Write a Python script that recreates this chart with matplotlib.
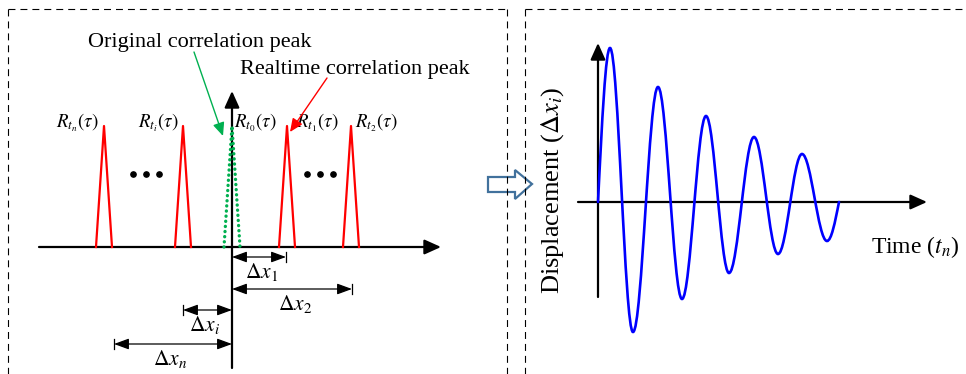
import numpy as np
import matplotlib
matplotlib.use('Agg')
import matplotlib.pyplot as plt
from matplotlib.path import Path
from matplotlib.patches import PathPatch, Polygon

plt.rcParams['font.family'] = ['Liberation Serif', 'DejaVu Serif']
plt.rcParams['mathtext.fontset'] = 'stix'
plt.rcParams['lines.scale_dashes'] = False

# correlation peaks (tau position, label)
peak_tau = [-128, -49, 0, 55, 119]
peak_labels = [r'$R_{t_n}(\tau)$', r'$R_{t_i}(\tau)$', r'$R_{t_0}(\tau)$',
               r'$R_{t_1}(\tau)$', r'$R_{t_2}(\tau)$']
label_tau = [-155, -74, 23, 85, 144]
peak_height = 121
peak_halfwidth = 8
original_idx = 2

# displacement brackets below the tau axis
dx_ends = [54, 120, -49, -118]
dx_levels = [-10, -42, -63, -97]
dx_labels = [r'$\Delta x_1$', r'$\Delta x_2$', r'$\Delta x_i$', r'$\Delta x_n$']

# displacement vs time (extrema of the damped oscillation)
wave_t = [0, 12, 35, 60, 84, 108, 131, 156, 180, 204, 229, 241]
wave_y = [0, 154, -130, 115, -97, 86, -71, 65, -52, 48, -39, 0]

W, H = 966, 374
fig = plt.figure(figsize=(W / 100, H / 100), dpi=100)

# background: dashed frames + hollow arrow (pixel coords)
bg = fig.add_axes([0, 0, 1, 1])
bg.set_xlim(0, W)
bg.set_ylim(H, 0)
bg.axis('off')
dash = dict(color='black', lw=0.8, dashes=(5, 3.6))
bg.plot([8, 8], [9, H], **dash)
bg.plot([8, 507], [9, 9], **dash)
bg.plot([507, 507], [9, H], **dash)
bg.plot([525, 525], [9, H], **dash)
bg.plot([525, 962], [9, 9], **dash)
bg.add_patch(Polygon([(488, 177), (515, 177), (515, 170), (532, 184),
                      (515, 199), (515, 192), (488, 192)],
                     closed=True, fill=False, ec='#41719C', lw=1.6))

# ---------------- left panel ----------------
ax = fig.add_axes([0, 0, 507 / W, 1], facecolor='none')
ax.set_xlim(-232, 275)
ax.set_ylim(-127, 247)
ax.axis('off')

axis_arrow = dict(arrowstyle='-|>,head_length=1.0,head_width=0.45',
                  color='black', lw=1.6, mutation_scale=10,
                  shrinkA=0, shrinkB=0)
ax.annotate('', xy=(209, 0), xytext=(-193, 0), arrowprops=axis_arrow)
ax.annotate('', xy=(0, 156), xytext=(0, -121), arrowprops=axis_arrow)

for i, (tau, lx, lab) in enumerate(zip(peak_tau, label_tau, peak_labels)):
    xs = [tau - peak_halfwidth, tau, tau + peak_halfwidth]
    ys = [0, peak_height, 0]
    if i == original_idx:
        ax.plot(xs, ys, color='#00B050', lw=2.4, ls=(0, (0.1, 3.6)),
                dash_capstyle='round', zorder=3)
    else:
        ax.plot(xs, ys, color='#FF0000', lw=1.6, zorder=3)
    ax.text(lx, 124, lab, fontsize=13.5, ha='center', va='center')

# ellipses between peaks
for cx in [-86, 88]:
    ax.plot([cx - 13, cx, cx + 13], [73, 73, 73], ls='none', marker='o',
            ms=3.8, color='black')

# dimension arrows
dim_arrow = dict(arrowstyle='<|-|>,head_length=0.9,head_width=0.33',
                 color='black', lw=0.9, mutation_scale=10,
                 shrinkA=0, shrinkB=0)
for xe, yl, lab in zip(dx_ends, dx_levels, dx_labels):
    ax.annotate('', xy=(xe, yl), xytext=(0, yl), arrowprops=dim_arrow)
    ax.plot([xe, xe], [yl - 5, yl + 5], color='black', lw=0.9)
    ax.text(xe / 2 + 3 * np.sign(xe), yl - 15, lab, fontsize=15.5,
            ha='center', va='center')

# callouts
ax.text(-32, 205, 'Original correlation peak', fontsize=16,
        ha='center', va='center')
ax.text(123, 178, 'Realtime correlation peak', fontsize=16,
        ha='center', va='center')
ax.annotate('', xy=(-9, 111), xytext=(-38, 195),
            arrowprops=dict(arrowstyle='-|>,head_length=0.8,head_width=0.35',
                            color='#00B050', lw=1.0, mutation_scale=10,
                            shrinkA=0, shrinkB=0))
ax.annotate('', xy=(58, 115), xytext=(95, 169),
            arrowprops=dict(arrowstyle='-|>,head_length=0.8,head_width=0.35',
                            color='#FF0000', lw=1.0, mutation_scale=10,
                            shrinkA=0, shrinkB=0))

# ---------------- right panel ----------------
ax2 = fig.add_axes([507 / W, 0, 459 / W, 1], facecolor='none')
ax2.set_xlim(-91, 368)
ax2.set_ylim(-172, 202)
ax2.axis('off')

ax2.annotate('', xy=(329, 0), xytext=(-20, 0), arrowprops=axis_arrow)
ax2.annotate('', xy=(0, 159), xytext=(0, -95), arrowprops=axis_arrow)

# smooth oscillation through the extrema (cubic Bezier segments)
verts = [(wave_t[0], wave_y[0])]
codes = [Path.MOVETO]
for t0, y0, t1, y1 in zip(wave_t[:-1], wave_y[:-1], wave_t[1:], wave_y[1:]):
    dt = t1 - t0
    if y0 == 0:
        p1 = (t0 + 0.334 * dt, 0.525 * y1)
        p2 = (t0 + 0.640 * dt, y1)
    elif y1 == 0:
        p1 = (t1 - 0.640 * dt, y0)
        p2 = (t1 - 0.334 * dt, 0.525 * y0)
    else:
        p1 = (t0 + 0.3634 * dt, y0)
        p2 = (t1 - 0.3634 * dt, y1)
    verts += [p1, p2, (t1, y1)]
    codes += [Path.CURVE4] * 3
ax2.add_patch(PathPatch(Path(verts, codes), fill=False, ec='#0000FF',
                        lw=1.9, capstyle='round', zorder=3))

ax2.text(-45, 12, r'Displacement ($\Delta x_i$)', fontsize=19, rotation=90,
         ha='center', va='center')
ax2.text(317, -45, r'Time ($t_n$)', fontsize=17, ha='center', va='center')

fig.savefig('out.png', dpi=100)
